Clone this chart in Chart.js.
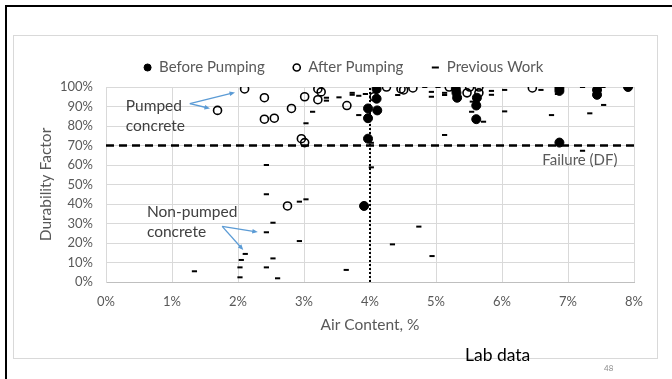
<!DOCTYPE html>
<html>
<head>
<meta charset="utf-8">
<script src="https://cdn.jsdelivr.net/npm/chart.js@4.4.0/dist/chart.umd.min.js"></script>
<style>
    html, body { margin: 0; padding: 0; background: #fff; width: 672px; height: 379px; overflow: hidden; }
    #frame { position: absolute; left: 5px; top: 5px; width: 667px; height: 374px; border-top: 2px solid #000; border-left: 2px solid #000; }
    #box { position: absolute; left: 13px; top: 35px; width: 643px; height: 322px; border: 1px solid #d9d9d9; }
    #durabilityChart { position: absolute; left: 0; top: 0; }
</style>
</head>
<body>
<div id="frame"></div>
<div id="box"></div>
<canvas id="durabilityChart" width="672" height="379"></canvas>
<script>
// air content (%) and durability factor (%)
const beforeAir = [3.91, 3.97, 3.97, 3.97, 4.10, 4.10, 4.11, 5.30, 5.31, 5.32, 5.61, 5.61, 5.62, 6.87, 6.87, 6.87, 7.44, 7.44, 7.91];
const beforeDF = [39, 73.5, 84, 89, 99, 94, 88, 99, 97, 94.5, 83.5, 90.5, 94.5, 99.5, 98, 71.5, 98.5, 96, 100];

const afterAir = [1.69, 2.10, 2.40, 2.40, 2.55, 2.75, 2.81, 2.96, 3.01, 3.01, 3.21, 3.21, 3.26, 3.65, 4.06, 4.25, 4.47, 4.51, 4.65, 5.20, 5.47, 5.51, 5.65, 5.65, 6.46];
const afterDF = [88, 99, 94.5, 83.5, 84, 39, 89, 73.5, 71.5, 95, 99, 93.5, 97.5, 90.5, 95, 100, 99, 98.5, 99.5, 100, 97, 100, 100, 97, 99.5];

const prevAir = [2.43, 3.34, 3.34, 3.53, 3.73, 3.73, 3.83, 3.93, 3.13, 3.03, 3.83, 4.02, 4.02, 4.42, 4.83, 4.93, 4.93, 5.03, 5.13, 5.13,
    5.13, 5.55, 5.54, 5.72, 5.84, 5.84, 6.04, 6.04, 6.59, 6.75, 6.84, 7.22, 7.33, 7.22, 7.53, 7.54,
    2.43, 2.53, 2.43, 2.11, 2.05, 2.53, 2.03, 2.43, 2.03, 2.60, 1.34, 2.93, 3.03, 2.93, 3.64, 4.34, 4.74, 4.94];
const prevDF = [60, 94.5, 93, 94.7, 97, 96, 95.5, 96.4, 87.3, 81.4, 85.6, 71.4, 58.8, 95.9, 100, 97.5, 95, 100, 97, 95.9,
    75.4, 92.5, 87.3, 82.2, 98, 96, 98.5, 87.5, 98.5, 85.6, 96.4, 100, 86.5, 67.3, 100, 90.8,
    45, 30.4, 25.5, 14.4, 11.3, 12.1, 7.5, 7.5, 2.4, 1.9, 5.5, 41.2, 42.4, 21, 6.2, 19.3, 28.4, 13.3];

const failureDF = 70;
const refAir = 4;
const xTicks = [0, 1, 2, 3, 4, 5, 6, 7, 8];
const yTicks = [0, 10, 20, 30, 40, 50, 60, 70, 80, 90, 100];

const FONT = 'Lato, "Open Sans", sans-serif';
const GREY = '#595959';
const ARROW = '#5B9BD5';

function toPoints(xs, ys) {
    return xs.map((x, i) => ({ x, y: ys[i] }));
}

function drawArrow(ctx, x1, y1, x2, y2) {
    const ang = Math.atan2(y2 - y1, x2 - x1);
    const head = 6;
    ctx.beginPath();
    ctx.moveTo(x1, y1);
    ctx.lineTo(x2 - Math.cos(ang) * 3, y2 - Math.sin(ang) * 3);
    ctx.stroke();
    ctx.beginPath();
    ctx.moveTo(x2, y2);
    ctx.lineTo(x2 - head * Math.cos(ang - 0.4), y2 - head * Math.sin(ang - 0.4));
    ctx.lineTo(x2 - head * Math.cos(ang + 0.4), y2 - head * Math.sin(ang + 0.4));
    ctx.closePath();
    ctx.fill();
}

// keep the legend band a fixed height so the plot starts where the original does,
// and nudge it right a little (it is centred on the outer box there)
const legendBand = {
    id: 'legendBand',
    beforeInit(chart) {
        const legend = chart.legend;
        if (!legend) return;
        const fit = legend.fit;
        legend.fit = function () {
            fit.call(this);
            this.height = 55;
        };
    },
    afterLayout(chart) {
        if (!chart.legend) return;
        chart.legend.left += 10;
        chart.legend.right += 10;
    }
};

// text labels and the blue callout arrows
const notesPlugin = {
    id: 'notes',
    afterDraw(chart) {
        const { ctx, scales: { x, y } } = chart;
        const px = v => x.getPixelForValue(v);
        const py = v => y.getPixelForValue(v);
        ctx.save();
        ctx.textBaseline = 'middle';
        ctx.textAlign = 'left';
        ctx.fillStyle = '#404040';
        ctx.font = '15.5px ' + FONT;
        ctx.fillText('Pumped', px(0.30), py(90.3));
        ctx.fillText('concrete', px(0.30), py(80));
        ctx.fillText('Non-pumped', px(0.62), py(35.9));
        ctx.fillText('concrete', px(0.62), py(25.6));
        ctx.fillStyle = GREY;
        ctx.font = '15px ' + FONT;
        ctx.fillText('Failure (DF)', px(6.61), py(62.6));

        ctx.strokeStyle = ARROW;
        ctx.fillStyle = ARROW;
        ctx.lineWidth = 1.3;
        drawArrow(ctx, px(1.27), py(91.5), px(1.955), py(97.2));
        drawArrow(ctx, px(1.27), py(91.5), px(1.576), py(89));
        drawArrow(ctx, px(1.76), py(28.5), px(2.30), py(25.6));
        drawArrow(ctx, px(1.76), py(28.5), px(2.08), py(16.4));

        ctx.fillStyle = '#000';
        ctx.font = '17.5px ' + FONT;
        ctx.fillText('Lab data', 465, 355);
        ctx.fillStyle = '#8c8c8c';
        ctx.font = '8px ' + FONT;
        ctx.fillText('48', 604, 368);
        ctx.restore();
    }
};

new Chart(document.getElementById('durabilityChart').getContext('2d'), {
    type: 'scatter',
    data: {
        datasets: [
            {
                label: 'Before Pumping',
                data: toPoints(beforeAir, beforeDF),
                pointStyle: 'circle',
                pointRadius: 4.5,
                backgroundColor: '#000',
                borderColor: '#000',
                borderWidth: 1
            },
            {
                label: 'After Pumping',
                data: toPoints(afterAir, afterDF),
                pointStyle: 'circle',
                pointRadius: 4,
                backgroundColor: 'rgba(0,0,0,0)',
                borderColor: '#000',
                borderWidth: 1.6
            },
            {
                label: 'Previous Work',
                data: toPoints(prevAir, prevDF),
                pointStyle: 'line',
                pointRadius: 2.6,
                borderColor: '#000',
                borderWidth: 2
            },
            {
                label: 'failure',
                type: 'line',
                data: [{ x: xTicks[0], y: failureDF }, { x: xTicks[xTicks.length - 1], y: failureDF }],
                borderColor: '#000',
                borderWidth: 2.5,
                borderDash: [8, 5],
                pointRadius: 0
            },
            {
                label: 'ref',
                type: 'line',
                data: [{ x: refAir, y: yTicks[0] }, { x: refAir, y: yTicks[yTicks.length - 1] }],
                borderColor: '#000',
                borderWidth: 2,
                borderDash: [2, 2],
                pointRadius: 0
            }
        ]
    },
    options: {
        responsive: false,
        animation: false,
        devicePixelRatio: 1,
        layout: { padding: { left: 33, right: 38, top: 32, bottom: 41 } },
        plugins: {
            tooltip: { enabled: false },
            legend: {
                position: 'top',
                labels: {
                    usePointStyle: true,
                    boxWidth: 8,
                    boxHeight: 5,
                    padding: 28,
                    color: GREY,
                    font: { family: FONT, size: 15 },
                    filter: item => item.datasetIndex < 3
                }
            }
        },
        scales: {
            x: {
                type: 'linear',
                min: xTicks[0],
                max: xTicks[xTicks.length - 1],
                afterBuildTicks: s => { s.ticks = xTicks.map(v => ({ value: v })); },
                afterFit: s => { s.height = 56; },
                ticks: {
                    padding: 12,
                    color: GREY,
                    font: { family: FONT, size: 13 },
                    callback: v => v + '%'
                },
                grid: { color: '#d9d9d9', drawTicks: false },
                border: { color: '#bfbfbf' },
                title: {
                    display: true,
                    text: 'Air Content, %',
                    color: GREY,
                    font: { family: FONT, size: 15.5 }
                }
            },
            y: {
                min: yTicks[0],
                max: yTicks[yTicks.length - 1],
                afterBuildTicks: s => { s.ticks = yTicks.map(v => ({ value: v })); },
                afterFit: s => { s.width = 73; },
                ticks: {
                    padding: 13,
                    color: GREY,
                    font: { family: FONT, size: 13 },
                    callback: v => v + '%'
                },
                grid: { color: '#d9d9d9', drawTicks: false },
                border: { color: '#d9d9d9' },
                title: {
                    display: true,
                    text: 'Durability Factor',
                    color: GREY,
                    font: { family: FONT, size: 15.5 }
                }
            }
        }
    },
    plugins: [legendBand, notesPlugin]
});
</script>
</body>
</html>
